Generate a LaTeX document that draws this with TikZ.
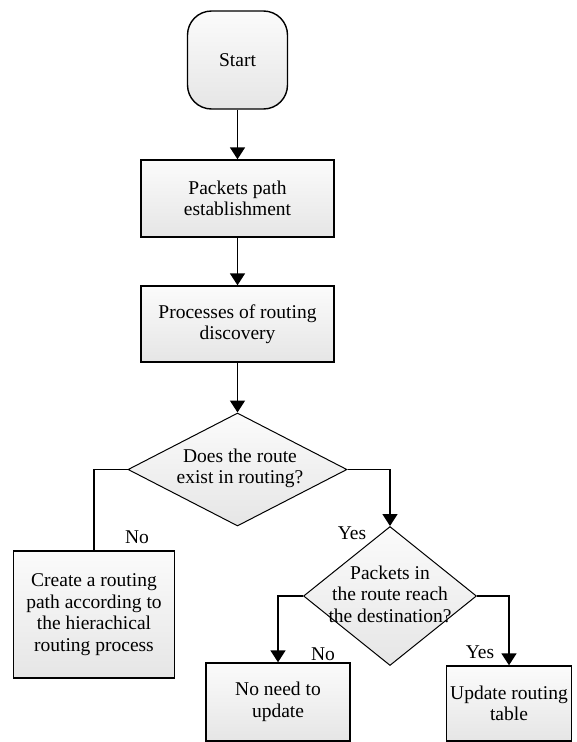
\documentclass[tikz,border=0pt]{standalone}
\usepackage{fontspec}
\setmainfont{Liberation Serif}
\usetikzlibrary{shapes.geometric,arrows.meta}
\begin{document}
\begin{tikzpicture}[
            x=1pt, y=-1pt,
            font=\fontsize{19.5}{21.5}\selectfont,
            terminal/.style={
                rectangle, rounded corners=24pt, draw=black, line width=1.4pt,
                top color=gray!3, bottom color=gray!20,
                minimum width=100pt, minimum height=98pt, inner sep=0pt
            },
            process/.style={
                rectangle, draw=black, line width=1.4pt,
                top color=gray!3, bottom color=gray!20,
                align=center, inner sep=0pt
            },
            decision/.style={
                diamond, draw=black, line width=1pt,
                top color=gray!3, bottom color=gray!20, inner sep=0pt
            },
            caption/.style={align=center, inner sep=0pt},
            link/.style={black, line width=1.6pt},
            flow/.style={link, -{Triangle[width=15pt,length=12pt]}}
        ]
        \useasboundingbox (0,0) rectangle (577,742);

        % --- Main column ---
        \node[terminal] (start) at (237.5,60) {Start};
        \node[process, minimum width=193pt, minimum height=77pt] (path) at (237.5,198.5)
        {Packets path\\establishment};
        \node[process, minimum width=193pt, minimum height=76pt] (disc) at (237.5,324)
        {Processes of routing\\discovery};

        % --- First question ---
        \node[decision, minimum width=219pt, minimum height=113pt] (route) at (237.5,469.5) {};
        \node[caption] (routetxt) at (240,468.5) {Does the route\\exist in routing?};

        \node[process, minimum width=161pt, minimum height=127pt] (create) at (94,614.5)
        {Create a routing\\path according to\\the hierachical\\routing process};

        % --- Second question ---
        \node[decision, minimum width=173pt, minimum height=139pt] (dest) at (390,596) {};
        \node[caption] (desttxt) at (390,594) {Packets in\\the route reach\\the destination?};

        \node[process, minimum width=144pt, minimum height=78pt] (noneed) at (278,702)
        {No need to\\update};
        \node[process, minimum width=125pt, minimum height=75pt] (update) at (509,703.5)
        {Update routing\\table};

        % --- Branch labels ---
        \node[caption] (no1)  at (137,537) {No};
        \node[caption] (yes1) at (352,533) {Yes};
        \node[caption] (no2)  at (323,654) {No};
        \node[caption] (yes2) at (480,652) {Yes};

        % --- Connectors ---
        \draw[flow] (start) -- (path);
        \draw[flow] (path) -- (disc);
        \draw[flow] (disc) -- (route);
        \draw[link] (route.west) -| (create.north);
        \draw[flow] (route.east) -| (dest.north);
        \draw[flow] (dest.west) -| (noneed.north);
        \draw[flow] (dest.east) -| (update.north);

    \end{tikzpicture}
\end{document}
